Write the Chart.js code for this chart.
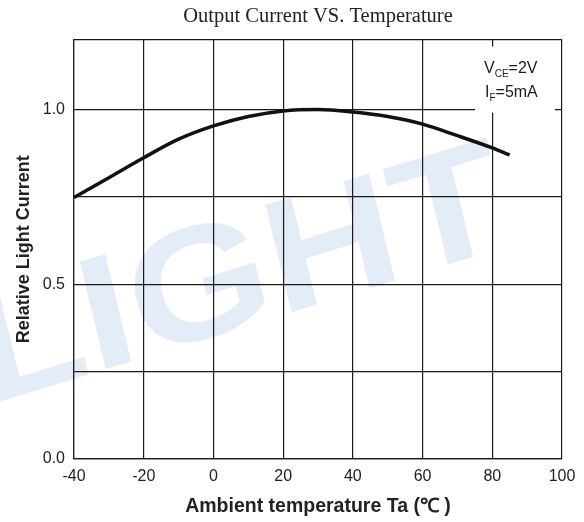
<!DOCTYPE html>
<html>
<head>
<meta charset="utf-8">
<script src="https://cdn.jsdelivr.net/npm/chart.js@4.4.1/dist/chart.umd.min.js"></script>
<style>
  html, body { margin: 0; padding: 0; background: #fff; }
  #wrap { width: 584px; height: 522px; }
</style>
</head>
<body>
<div id="wrap"><canvas id="chart" width="584" height="522"></canvas></div>
<script>
// values
const temps = [-40, -30, -20, -10, 0, 10, 20, 30, 40, 50, 60, 70, 80, 85];
const relCurrent = [0.748, 0.805, 0.862, 0.915, 0.953, 0.980, 0.996, 1.0, 0.993, 0.980, 0.958, 0.925, 0.890, 0.870];
const xTicks = [-40, -20, 0, 20, 40, 60, 80, 100];
const yLabelled = [0, 0.5, 1.0];

const ink = '#1a1a1a';

// faint watermark behind the grid
const watermark = {
    id: 'watermark',
    beforeDraw(chart) {
        const ctx = chart.ctx;
        ctx.save();
        ctx.translate(262, 275);
        ctx.rotate(-17 * Math.PI / 180);
        ctx.transform(1.15, 0, -0.06, 1, 0, 0);
        ctx.fillStyle = '#e4edf7';
        ctx.font = 'bold 160px "Liberation Sans", Arial, sans-serif';
        ctx.textAlign = 'center';
        ctx.textBaseline = 'middle';
        ctx.fillText('LIGHT', -20, 0);
        ctx.restore();
    }
};

// condition box, top right
const conditions = {
    id: 'conditions',
    afterDatasetsDraw(chart) {
        const ctx = chart.ctx;
        const a = chart.chartArea;
        const x0 = a.right - 87;
        ctx.save();
        ctx.fillStyle = '#fff';
        ctx.fillRect(x0, a.top + 7, 80, 66);
        ctx.fillStyle = ink;
        ctx.textBaseline = 'alphabetic';
        ctx.textAlign = 'left';
        let x = x0 + 9;
        ctx.font = '16px "Liberation Sans", Arial, sans-serif';
        ctx.fillText('V', x, a.top + 33);
        x += ctx.measureText('V').width;
        ctx.font = '10px "Liberation Sans", Arial, sans-serif';
        ctx.fillText('CE', x, a.top + 37);
        x += ctx.measureText('CE').width;
        ctx.font = '16px "Liberation Sans", Arial, sans-serif';
        ctx.fillText('=2V', x, a.top + 33);

        x = x0 + 10;
        ctx.fillText('I', x, a.top + 57);
        x += ctx.measureText('I').width;
        ctx.font = '10px "Liberation Sans", Arial, sans-serif';
        ctx.fillText('F', x, a.top + 61);
        x += ctx.measureText('F').width;
        ctx.font = '16px "Liberation Sans", Arial, sans-serif';
        ctx.fillText('=5mA', x, a.top + 57);
        ctx.restore();
    }
};

const ctx = document.getElementById('chart').getContext('2d');
new Chart(ctx, {
    type: 'line',
    data: {
        datasets: [{
            data: temps.map((t, i) => ({ x: t, y: relCurrent[i] })),
            borderColor: '#111',
            borderWidth: 3.5,
            pointRadius: 0,
            fill: false,
            cubicInterpolationMode: 'monotone'
        }]
    },
    options: {
        responsive: false,
        animation: false,
        layout: { padding: { left: 0, right: 22, top: 0, bottom: 0 } },
        plugins: {
            legend: { display: false },
            tooltip: { enabled: false },
            title: {
                display: true,
                text: 'Output Current VS. Temperature',
                fullSize: false,
                color: '#222',
                font: { family: '"Liberation Serif", "Times New Roman", serif', size: 20.5, weight: 'normal' },
                padding: { top: 4, bottom: 11 }
            }
        },
        scales: {
            x: {
                type: 'linear',
                min: -40,
                max: 100,
                afterBuildTicks: (s) => { s.ticks = xTicks.map(v => ({ value: v })); },
                afterFit: (s) => { s.height = 63; },
                grid: { color: ink, lineWidth: 1.2, drawTicks: false },
                border: { color: ink, width: 1.2 },
                ticks: {
                    color: '#222',
                    padding: 8,
                    maxRotation: 0,
                    font: { family: '"Liberation Sans", Arial, sans-serif', size: 16 }
                },
                title: {
                    display: true,
                    text: 'Ambient temperature Ta (\u2103 )',
                    color: '#222',
                    font: { family: '"Liberation Sans", Arial, sans-serif', size: 19.5, weight: 'bold' },
                    padding: { top: 0, bottom: 4 }
                }
            },
            y: {
                min: 0,
                max: 1.2,
                afterFit: (s) => { s.width = 74; },
                grid: { color: ink, lineWidth: 1.2, drawTicks: false },
                border: { color: ink, width: 1.2 },
                ticks: {
                    stepSize: 0.25,
                    color: '#222',
                    padding: 9,
                    font: { family: '"Liberation Sans", Arial, sans-serif', size: 16 },
                    callback: (v) => yLabelled.some(l => Math.abs(l - v) < 1e-6) ? v.toFixed(1) : ''
                },
                title: {
                    display: true,
                    text: 'Relative Light Current',
                    color: '#222',
                    font: { family: '"Liberation Sans", Arial, sans-serif', size: 18, weight: 'bold' },
                    padding: { top: 13, bottom: 0 }
                }
            }
        }
    },
    plugins: [watermark, conditions]
});
</script>
</body>
</html>
